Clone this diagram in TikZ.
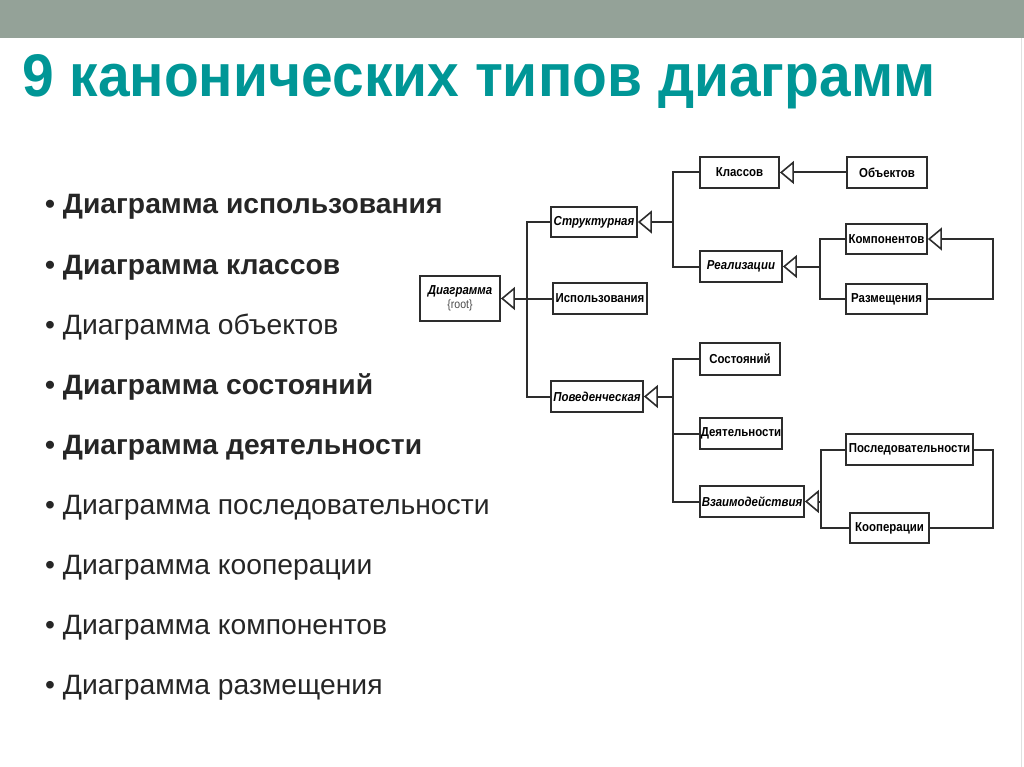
\documentclass[tikz,border=0pt]{standalone}
\usepackage{fontspec}
\setmainfont{Liberation Sans}
\newfontfamily\boxfont[FakeStretch=0.88]{Liberation Sans}
\newfontfamily\bulfont[FakeStretch=1.01]{Liberation Sans}
\usetikzlibrary{arrows.meta}
\definecolor{bandcol}{RGB}{148,162,152}
\definecolor{titlecol}{RGB}{0,150,150}
\definecolor{txtcol}{RGB}{38,38,38}
\definecolor{lncol}{RGB}{45,45,45}
\begin{document}
\begin{tikzpicture}[x=1pt,y=-1pt,
  box/.style={draw=lncol, line width=1.8pt, fill=white, inner sep=0pt, minimum height=31pt,
    font=\boxfont\bfseries\fontsize{13}{15}\selectfont, text=black},
  absbox/.style={box, font=\boxfont\bfseries\itshape\fontsize{13}{15}\selectfont},
  conn/.style={draw=lncol, line width=2pt},
  gen/.style={conn, -{Triangle[open, length=14pt, width=23pt, line width=1.6pt]}},
  bul/.style={anchor=base west, inner sep=0pt, text=txtcol, font=\bulfont\fontsize{28}{32}\selectfont},
  bbul/.style={bul, font=\bulfont\bfseries\fontsize{28}{32}\selectfont}
]
\useasboundingbox (0,0) rectangle (1024,767);
\fill[bandcol] (0,0) rectangle (1024,38);
\draw[black!12, line width=1pt] (1021,38) -- (1021,767);

\node[anchor=base west, inner sep=0pt, text=titlecol] (title) at (22,97)
  {\resizebox{913pt}{42pt}{\bfseries 9 канонических типов диаграмм}};

% bullet list
\node[bbul] (b1) at (45,214)   {• Диаграмма использования};
\node[bbul] (b2) at (45,274.1) {• Диаграмма классов};
\node[bul]  (b3) at (45,334.2) {• Диаграмма объектов};
\node[bbul] (b4) at (45,394.3) {• Диаграмма состояний};
\node[bbul] (b5) at (45,454.4) {• Диаграмма деятельности};
\node[bul]  (b6) at (45,514.5) {• Диаграмма последовательности};
\node[bul]  (b7) at (45,574.6) {• Диаграмма кооперации};
\node[bul]  (b8) at (45,634.7) {• Диаграмма компонентов};
\node[bul]  (b9) at (45,694.8) {• Диаграмма размещения};

% diagram nodes
\node[absbox, minimum width=80pt, minimum height=45pt, align=center] (root) at (460,298.5)
  {Диаграмма\\[-1pt]{\mdseries\upshape\color{black!70}\fontsize{12}{13}\selectfont\{root\}}};
\node[absbox, minimum width=86pt, minimum height=30pt] (str) at (594,222) {Структурная};
\node[box, minimum width=94pt] (use) at (600,298.5) {Использования};
\node[absbox, minimum width=92pt] (beh) at (597,396.5) {Поведенческая};
\node[box, minimum width=79pt] (cls) at (739.5,172.5) {Классов};
\node[box, minimum width=80pt] (obj) at (887,172.5) {Объектов};
\node[absbox, minimum width=82pt] (real) at (741,266.5) {Реализации};
\node[box, minimum width=81pt, minimum height=30pt] (comp) at (886.5,239) {Компонентов};
\node[box, minimum width=81pt, minimum height=30pt] (depl) at (886.5,299) {Размещения};
\node[box, minimum width=80pt, minimum height=32pt] (state) at (740,359) {Состояний};
\node[box, minimum width=82pt] (act) at (741,433.5) {Деятельности};
\node[absbox, minimum width=104pt] (inter) at (752,501.5) {Взаимодействия};
\node[box, minimum width=127pt] (seq) at (909.5,449.5) {Последовательности};
\node[box, minimum width=79pt, minimum height=30pt] (coop) at (889.5,528) {Кооперации};

% connectors
\coordinate (busR) at (527,298.5);
\draw[conn] (str.west) -| (busR) |- (beh.west);
\draw[gen] (use.west) -- (root.east);

\coordinate (busS) at (673,222);
\draw[conn] (cls.west) -| (busS) |- (real.west);
\draw[gen] (busS) -- (str.east);
\draw[gen] (obj.west) -- (cls.east);

\coordinate (busRe) at (820,266.5);
\draw[conn] (comp.west) -| (busRe) |- (depl.west);
\draw[gen] (busRe) -- (real.east);
\coordinate (cR) at (993,299);
\draw[gen] (depl.east) -- (cR) |- (comp.east);

\coordinate (busB) at (673,396.5);
\draw[conn] (state.west) -| (busB) |- (inter.west);
\draw[conn] (act.west) -- (act.west -| busB);
\draw[gen] (busB) -- (beh.east);

\coordinate (busI) at (821,501.5);
\draw[conn] (seq.west) -| (busI) |- (coop.west);
\draw[gen] (busI) -- (inter.east);
\coordinate (sR) at (993,449.5);
\draw[conn] (seq.east) -- (sR) |- (coop.east);
\end{tikzpicture}
\end{document}
